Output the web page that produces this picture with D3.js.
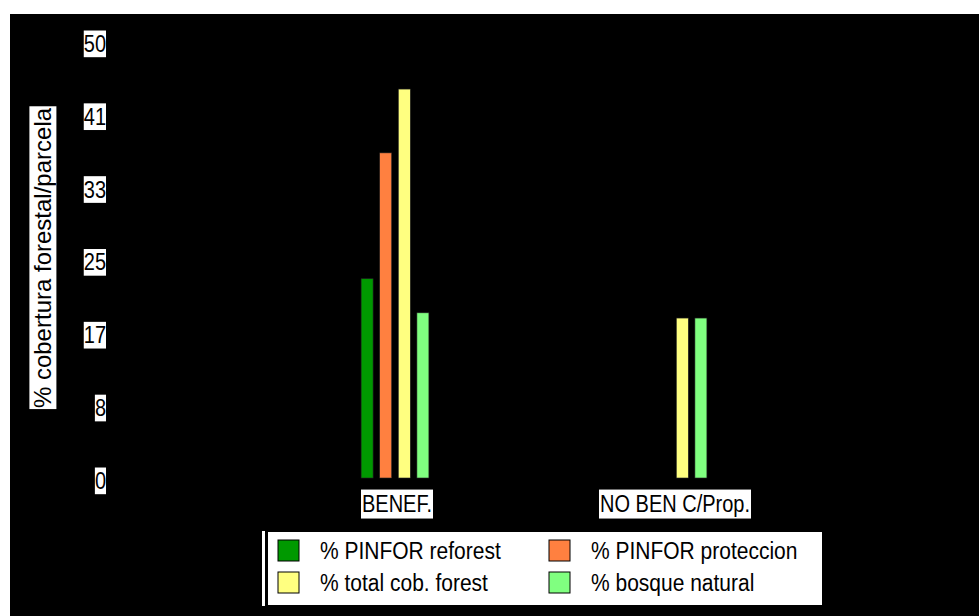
<!DOCTYPE html>
<html>
<head>
<meta charset="utf-8">
<script src="https://cdn.jsdelivr.net/npm/d3@7/dist/d3.min.js"></script>
<style>
  html, body { margin: 0; padding: 0; background: #fff; }
  svg { display: block; }
  text { font-family: "Liberation Sans", Arial, sans-serif; fill: #000; }
</style>
</head>
<body>
<script>
// Forest cover per plot, by beneficiary group
const categories = ["BENEF.", "NO BEN C/Prop."];
const seriesNames = ["% PINFOR reforest", "% PINFOR proteccion", "% total cob. forest", "% bosque natural"];
const seriesColors = ["#009900", "#FF8040", "#FFFF80", "#80FF80"];
const pinforReforest = [22.8, 0];
const pinforProteccion = [37.2, 0];
const totalCobForest = [44.5, 18.3];
const bosqueNatural = [18.9, 18.3];
const tickValues = [0, 50 / 6, 100 / 6, 25, 200 / 6, 250 / 6, 50];
const tickLabels = ["0", "8", "17", "25", "33", "41", "50"];
const yTitle = "% cobertura forestal/parcela";

const seriesValues = [pinforReforest, pinforProteccion, totalCobForest, bosqueNatural];

const W = 979, H = 616;
const TALL = "scale(1,1.15)"; // text is drawn slightly tall, as in the source chart

const svg = d3.select("body").append("svg").attr("width", W).attr("height", H);

svg.append("rect").attr("x", 0).attr("y", 0).attr("width", W).attr("height", H).attr("fill", "#fff");
svg.append("rect").attr("x", 10).attr("y", 14).attr("width", W - 10).attr("height", H - 14).attr("fill", "#000");

const y = d3.scaleLinear().domain([0, 50]).range([478, 41]);
const x0 = d3.scaleBand().domain(categories).range([256, 812]);
const x1 = d3.scaleBand().domain(d3.range(seriesNames.length))
  .range([-37.2, 37.2]).paddingInner(0.355).paddingOuter(0.1775);

// white box behind a text element (shares the text's transform)
function boxBehind(sel, padX, padY) {
  sel.each(function () {
    const b = this.getBBox();
    d3.select(this.parentNode).insert("rect", () => this)
      .attr("x", b.x - padX).attr("y", b.y - padY)
      .attr("width", b.width + 2 * padX).attr("height", b.height + 2 * padY)
      .attr("transform", this.getAttribute("transform"))
      .attr("fill", "#fff");
  });
}

// value axis
const yAxis = d3.axisLeft(y).tickValues(tickValues).tickSize(0).tickPadding(0)
  .tickFormat((d, i) => tickLabels[i]);
const gy = svg.append("g").attr("transform", "translate(106,3)").call(yAxis);
gy.select(".domain").remove();
gy.selectAll("text").attr("font-size", 20).attr("font-family", "Liberation Sans, Arial, sans-serif")
  .attr("fill", "#000").attr("x", 0).attr("transform", TALL);
gy.selectAll(".tick text").call(boxBehind, 0, 0);

// axis title
const title = svg.append("g").attr("transform", "translate(43,258) rotate(-90)");
title.append("text").attr("text-anchor", "middle").attr("dy", "0.35em")
  .attr("font-size", 24).text(yTitle).call(boxBehind, 1, 0);

// bars
const groups = svg.append("g").selectAll("g").data(categories).join("g")
  .attr("transform", d => `translate(${x0(d) + x0.bandwidth() / 2},0)`);
groups.selectAll("rect")
  .data((c, ci) => seriesValues.map((vals, si) => ({ si, v: vals[ci] })).filter(d => d.v > 0))
  .join("rect")
  .attr("x", d => x1(d.si))
  .attr("width", x1.bandwidth())
  .attr("y", d => y(d.v))
  .attr("height", d => y(0) - y(d.v))
  .attr("fill", d => seriesColors[d.si])
  .attr("stroke", "#222").attr("stroke-width", 0.6);

// category labels
const cat = svg.append("g").selectAll("g").data(categories).join("g")
  .attr("transform", d => `translate(${x0(d) + x0.bandwidth() / 2 + 2},504)`);
cat.append("text").attr("text-anchor", "middle").attr("dy", "0.35em")
  .attr("font-size", 20).attr("transform", TALL).text(d => d).call(boxBehind, 1, 1);

// legend
svg.append("rect").attr("x", 262).attr("y", 531).attr("width", 3).attr("height", 75).attr("fill", "#fff");
svg.append("rect").attr("x", 268).attr("y", 532).attr("width", 554).attr("height", 73).attr("fill", "#fff");
const leg = svg.append("g").selectAll("g").data(seriesNames).join("g")
  .attr("transform", (d, i) => `translate(${278 + (i % 2) * 271},${540 + Math.floor(i / 2) * 32})`);
leg.append("rect").attr("width", 21).attr("height", 21)
  .attr("fill", (d, i) => seriesColors[i]).attr("stroke", "#000").attr("stroke-width", 1);
leg.append("g").attr("transform", "translate(42,11)")
  .append("text").attr("dy", "0.35em").attr("transform", TALL)
  .attr("font-size", 21).text(d => d);
</script>
</body>
</html>
